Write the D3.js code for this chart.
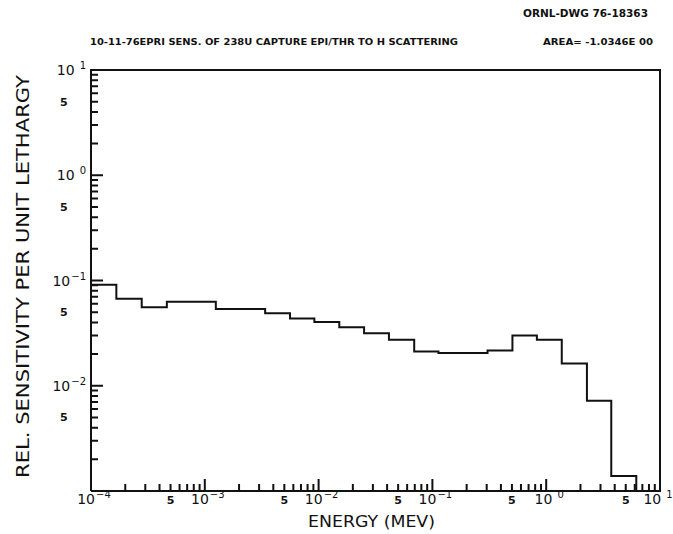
<!DOCTYPE html>
<html lang="en">
<head>
<meta charset="utf-8">
<title>EPRI sensitivity</title>
<script src="https://d3js.org/d3.v7.min.js"></script>
<style>
body { margin: 0; background: #fff; }
text { fill: #111; font-family: "DejaVu Sans", sans-serif; }
</style>
</head>
<body>
<div id="chart"></div>
<script>
// group boundaries (MeV) and sensitivity per unit lethargy for each group
var edges = [1e-4, 1.67e-4, 2.79e-4, 4.64e-4, 1.25e-3, 3.39e-3, 5.61e-3, 9.18e-3,
             1.52e-2, 2.51e-2, 4.15e-2, 6.92e-2, 0.113, 0.305, 0.505, 0.828,
             1.37, 2.28, 3.73, 6.19, 10];
var values = [0.091, 0.067, 0.0557, 0.0627, 0.0537, 0.0489, 0.0435, 0.0404,
              0.0359, 0.0315, 0.0274, 0.0212, 0.0205, 0.0216, 0.0301, 0.0274,
              0.0163, 0.0072, 0.00139, 0.001];
var xDecades = [-4, -3, -2, -1, 0, 1];
var yDecades = [-3, -2, -1, 0, 1];
var title = "10-11-76EPRI SENS. OF 238U CAPTURE EPI/THR TO H SCATTERING";
var area = "AREA= -1.0346E 00";
var dwg = "ORNL-DWG 76-18363";

(function () {
var W = 673, H = 534;
var pl = 91, pr = 660, pt = 70, pb = 491;

var svg = d3.select("#chart").append("svg").attr("width", W).attr("height", H);

var x = d3.scaleLog().domain([1e-4, 10]).range([pl, pr]);
var y = d3.scaleLog().domain([1e-3, 10]).range([pb, pt]).clamp(true);

// frame
svg.append("path")
    .attr("d", "M" + pl + "," + pb + "V" + pt + "H" + pr + "V" + pb + "H" + pl)
    .attr("fill", "none").attr("stroke", "#111").attr("stroke-width", 2);

// step line
var pts = [];
values.forEach(function (v, i) {
    pts.push([x(edges[i]), y(v)]);
    pts.push([x(edges[i + 1]), y(v)]);
});
svg.append("path")
    .attr("d", d3.line()(pts))
    .attr("fill", "none").attr("stroke", "#111").attr("stroke-width", 2);

// log ticks: decade ticks long, the rest short
var tickPath = "";
yDecades.slice(0, -1).forEach(function (d) {
    d3.range(1, 10).forEach(function (m) {
        tickPath += "M" + pl + "," + y(m * Math.pow(10, d)) + "h" + (m === 1 ? 12 : 7);
    });
});
xDecades.slice(0, -1).forEach(function (d) {
    d3.range(1, 10).forEach(function (m) {
        tickPath += "M" + x(m * Math.pow(10, d)) + "," + pb + "v" + (m === 1 ? -12 : -7);
    });
});
svg.append("path").attr("d", tickPath)
    .attr("fill", "none").attr("stroke", "#111").attr("stroke-width", 2);

// tick labels 10^n
function pow10(sel, d) {
    sel.append("tspan").text("10");
    sel.append("tspan").attr("dx", d < 0 ? 1 : 5).attr("dy", -6).attr("font-size", 10)
        .text(d < 0 ? "\u2212" + (-d) : d);
}
yDecades.forEach(function (d) {
    if (d === -3) return;
    var t = svg.append("text").attr("x", 86).attr("y", y(Math.pow(10, d)) + 5)
        .attr("text-anchor", "end").attr("font-size", 14);
    pow10(t, d);
});
yDecades.slice(0, -1).forEach(function (d) {
    svg.append("text").attr("x", 60).attr("y", y(5 * Math.pow(10, d)) + 4)
        .attr("font-size", 11).attr("font-weight", "bold").text("5");
});
xDecades.forEach(function (d) {
    var t = svg.append("text").attr("x", x(Math.pow(10, d)) + (d === 1 ? -2 : 3)).attr("y", 504)
        .attr("text-anchor", "middle").attr("font-size", 14);
    pow10(t, d);
});
xDecades.slice(0, -1).forEach(function (d) {
    svg.append("text").attr("x", x(5 * Math.pow(10, d))).attr("y", 504)
        .attr("text-anchor", "middle").attr("font-size", 11).attr("font-weight", "bold").text("5");
});

// axis titles
svg.append("text").attr("x", 308).attr("y", 527)
    .attr("font-size", 16).attr("textLength", 127).attr("lengthAdjust", "spacingAndGlyphs")
    .text("ENERGY (MEV)");
svg.append("text").attr("transform", "translate(29,478) rotate(-90)")
    .attr("font-size", 17).attr("textLength", 403).attr("lengthAdjust", "spacingAndGlyphs")
    .text("REL. SENSITIVITY PER UNIT LETHARGY");

// header
svg.append("text").attr("x", 90).attr("y", 45)
    .attr("font-size", 8).attr("font-weight", "bold")
    .attr("textLength", 368).attr("lengthAdjust", "spacingAndGlyphs").text(title);
svg.append("text").attr("x", 543).attr("y", 45)
    .attr("font-size", 8).attr("font-weight", "bold")
    .attr("textLength", 110).attr("lengthAdjust", "spacingAndGlyphs").text(area);
svg.append("text").attr("x", 523).attr("y", 17)
    .attr("font-size", 11).attr("font-weight", "bold")
    .attr("textLength", 125).attr("lengthAdjust", "spacingAndGlyphs").text(dwg);
}());
</script>
</body>
</html>
